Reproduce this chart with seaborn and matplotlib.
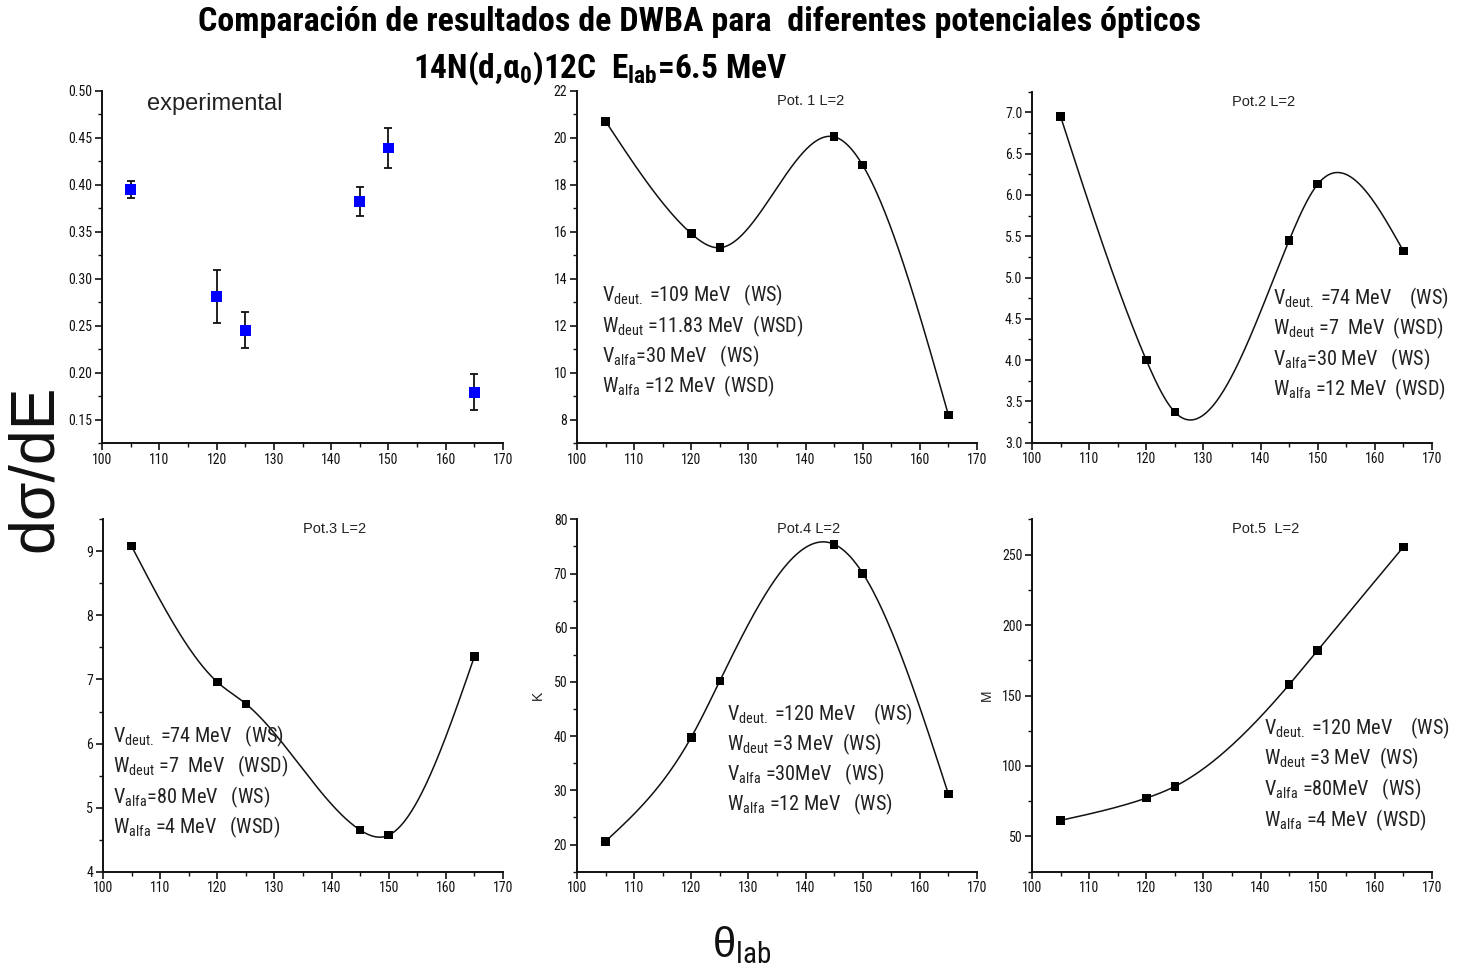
import numpy as np
import pandas as pd
import matplotlib
matplotlib.use("Agg")
import matplotlib.pyplot as plt
from matplotlib.ticker import MultipleLocator, FormatStrFormatter
import seaborn as sns

# Scattering angles (lab frame, degrees)
theta = [105, 120, 125, 145, 150, 165]

# Experimental cross sections with uncertainties
exp_sigma = [0.395, 0.281, 0.245, 0.382, 0.439, 0.179]
exp_err = [0.009, 0.028, 0.019, 0.015, 0.021, 0.019]

# DWBA results for the five optical potentials (L=2)
pot1 = [20.70, 15.92, 15.32, 20.04, 18.83, 8.20]
pot2 = [6.95, 4.00, 3.37, 5.45, 6.13, 5.32]
pot3 = [9.08, 6.96, 6.62, 4.65, 4.57, 7.36]
pot4 = [20.6, 39.8, 50.2, 75.4, 70.05, 29.3]
pot5 = [61.4, 77.2, 85.5, 157.7, 182.1, 255.4]

pot_titles = ["Pot. 1 L=2", "Pot.2 L=2", "Pot.3 L=2", "Pot.4 L=2", "Pot.5  L=2"]
pot_params = [
    [r"V$_{\mathrm{deut.}}$ =109 MeV   (WS)", r"W$_{\mathrm{deut}}$ =11.83 MeV  (WSD)",
     r"V$_{\mathrm{alfa}}$=30 MeV   (WS)", r"W$_{\mathrm{alfa}}$ =12 MeV  (WSD)"],
    [r"V$_{\mathrm{deut.}}$ =74 MeV    (WS)", r"W$_{\mathrm{deut}}$ =7  MeV  (WSD)",
     r"V$_{\mathrm{alfa}}$=30 MeV   (WS)", r"W$_{\mathrm{alfa}}$ =12 MeV  (WSD)"],
    [r"V$_{\mathrm{deut.}}$ =74 MeV   (WS)", r"W$_{\mathrm{deut}}$ =7  MeV   (WSD)",
     r"V$_{\mathrm{alfa}}$=80 MeV   (WS)", r"W$_{\mathrm{alfa}}$ =4 MeV   (WSD)"],
    [r"V$_{\mathrm{deut.}}$ =120 MeV    (WS)", r"W$_{\mathrm{deut}}$ =3 MeV  (WS)",
     r"V$_{\mathrm{alfa}}$ =30MeV   (WS)", r"W$_{\mathrm{alfa}}$ =12 MeV   (WS)"],
    [r"V$_{\mathrm{deut.}}$ =120 MeV    (WS)", r"W$_{\mathrm{deut}}$ =3 MeV  (WS)",
     r"V$_{\mathrm{alfa}}$ =80MeV   (WS)", r"W$_{\mathrm{alfa}}$ =4 MeV  (WSD)"],
]
pot_ylabels = ["", "", "", "K", "M"]

sns.set_style("ticks")
NARROW = ["Roboto Condensed", "PT Sans Narrow", "Liberation Sans", "DejaVu Sans"]
REGULAR = ["Liberation Sans", "DejaVu Sans"]
plt.rcParams["font.family"] = NARROW
plt.rcParams["mathtext.fontset"] = "custom"
plt.rcParams["mathtext.rm"] = "Roboto Condensed"
plt.rcParams["mathtext.it"] = "Roboto Condensed:italic"
plt.rcParams["mathtext.bf"] = "Roboto Condensed:bold"

W, H = 1468, 973
fig = plt.figure(figsize=(W / 100, H / 100), dpi=100)
fig.patch.set_facecolor("white")


def add_axes_px(x0, y0, x1, y1):
    return fig.add_axes([x0 / W, 1 - y1 / H, (x1 - x0) / W, (y1 - y0) / H])


def spline_curve(x, y, n=400):
    """Natural cubic spline through the points, sampled densely."""
    x = np.asarray(x, float)
    y = np.asarray(y, float)
    k = len(x)
    h = np.diff(x)
    A = np.zeros((k, k))
    b = np.zeros(k)
    A[0, 0] = A[-1, -1] = 1
    for i in range(1, k - 1):
        A[i, i - 1] = h[i - 1]
        A[i, i] = 2 * (h[i - 1] + h[i])
        A[i, i + 1] = h[i]
        b[i] = 6 * ((y[i + 1] - y[i]) / h[i] - (y[i] - y[i - 1]) / h[i - 1])
    M = np.linalg.solve(A, b)
    xs = np.linspace(x[0], x[-1], n)
    idx = np.clip(np.searchsorted(x, xs) - 1, 0, k - 2)
    x0, x1 = x[idx], x[idx + 1]
    hh = x1 - x0
    t0, t1 = x1 - xs, xs - x0
    ys = (M[idx] * t0 ** 3 + M[idx + 1] * t1 ** 3) / (6 * hh) \
        + (y[idx] / hh - M[idx] * hh / 6) * t0 \
        + (y[idx + 1] / hh - M[idx + 1] * hh / 6) * t1
    return xs, ys


def style_axis(ax, ylim, ymaj, ymin, fmt):
    ax.set_xlim(100, 170)
    ax.set_ylim(*ylim)
    ax.xaxis.set_major_locator(MultipleLocator(10))
    ax.xaxis.set_minor_locator(MultipleLocator(5))
    ax.yaxis.set_major_locator(MultipleLocator(ymaj))
    ax.yaxis.set_minor_locator(MultipleLocator(ymin))
    ax.yaxis.set_major_formatter(FormatStrFormatter(fmt))
    for side in ("top", "right"):
        ax.spines[side].set_visible(False)
    for side in ("left", "bottom"):
        ax.spines[side].set_linewidth(1.4)
        ax.spines[side].set_color("#111111")
    ax.tick_params(which="major", direction="out", length=5, width=1.2,
                   labelsize=10, colors="#111111", pad=2)
    ax.tick_params(which="minor", direction="out", length=3, width=1.0,
                   colors="#111111")
    ax.set_xlabel("")
    ax.set_ylabel("")
    ax.set_facecolor("white")


# Panel frames in pixels: (left, top, right, bottom)
frames = [
    (102, 90.7, 503, 443),
    (577, 90.7, 977, 443.3),
    (1032, 91.7, 1432, 442.7),
    (103, 519.3, 503, 871.7),
    (577, 519.3, 977, 871.7),
    (1032, 519.3, 1432, 871.7),
]

# Experimental panel
ax = add_axes_px(*frames[0])
ax.errorbar(theta, exp_sigma, yerr=exp_err, fmt="none", ecolor="#111111",
            elinewidth=1.3, capsize=3, capthick=1.3, zorder=2)
sns.scatterplot(x=theta, y=exp_sigma, marker="s", s=60, color="#0000ff",
                edgecolor="none", ax=ax, zorder=3, legend=False)
style_axis(ax, (0.125, 0.50), 0.05, 0.025, "%.2f")
ax.text(107.9, 0.486, "experimental", fontsize=17, family=REGULAR,
        color="#222222", va="center", ha="left")

pots = [pot1, pot2, pot3, pot4, pot5]
limits = [((7, 22), 2, 1, "%d"),
          ((3.0, 7.25), 0.5, 0.25, "%.1f"),
          ((4, 9.5), 1, 0.5, "%d"),
          ((15, 80), 10, 5, "%d"),
          ((25, 275), 50, 25, "%d")]

# Parameter text block positions in pixels (left x, line centre y values)
param_pos = [
    (601.7, [295, 326, 356, 386]),
    (1272.7, [298.3, 328.3, 359, 389]),
    (112.7, [736.7, 766.7, 797.3, 827.7]),
    (727.3, [714, 744.3, 774.3, 804.3]),
    (1264, [728.3, 758.3, 789, 820]),
]
title_x = [0.584, 0.578, 0.578, 0.578, 0.585]

for i, vals in enumerate(pots):
    ax = add_axes_px(*frames[i + 1])
    xs, ys = spline_curve(theta, vals)
    curve = pd.DataFrame({"theta": xs, "sigma": ys})
    sns.lineplot(data=curve, x="theta", y="sigma", color="#111111", lw=1.1,
                 ax=ax, zorder=2)
    sns.scatterplot(x=theta, y=vals, marker="s", s=38, color="#000000",
                    edgecolor="none", ax=ax, zorder=3, legend=False)
    ylim, maj, mnr, fmt = limits[i]
    style_axis(ax, ylim, maj, mnr, fmt)
    ax.text(title_x[i], 0.972, pot_titles[i], transform=ax.transAxes,
            fontsize=10.5, ha="center", va="center", color="#222222",
            family=REGULAR)
    if pot_ylabels[i]:
        ax.set_ylabel(pot_ylabels[i], fontsize=10, color="#222222", labelpad=6,
                      family=REGULAR)
    px, pys = param_pos[i]
    for line, py in zip(pot_params[i], pys):
        fig.text(px / W, 1 - py / H, line, fontsize=14.6, ha="left", va="center",
                 color="#222222")

# Figure titles and shared axis labels
fig.text(700 / W, 1 - 22 / H,
         "Comparación de resultados de DWBA para  diferentes potenciales ópticos",
         fontsize=24.5, fontweight="bold", ha="center", va="center", color="#000000")
fig.text(600 / W, 1 - 68 / H,
         r"14N(d,$\mathbf{\alpha}_{\mathbf{0}}$)12C  E$_{\mathbf{lab}}$=6.5 MeV",
         fontsize=24, fontweight="bold", ha="center", va="center", color="#000000")
fig.text(35 / W, 1 - 468 / H, "dσ/dE", rotation=90, fontsize=45,
         family=REGULAR, ha="center", va="center", color="#111111")
fig.text(742 / W, 1 - 945 / H, r"θ$_{\mathrm{lab}}$", fontsize=30,
         family=REGULAR, ha="center", va="center", color="#111111")

fig.savefig("out.png", dpi=100, facecolor="white")
